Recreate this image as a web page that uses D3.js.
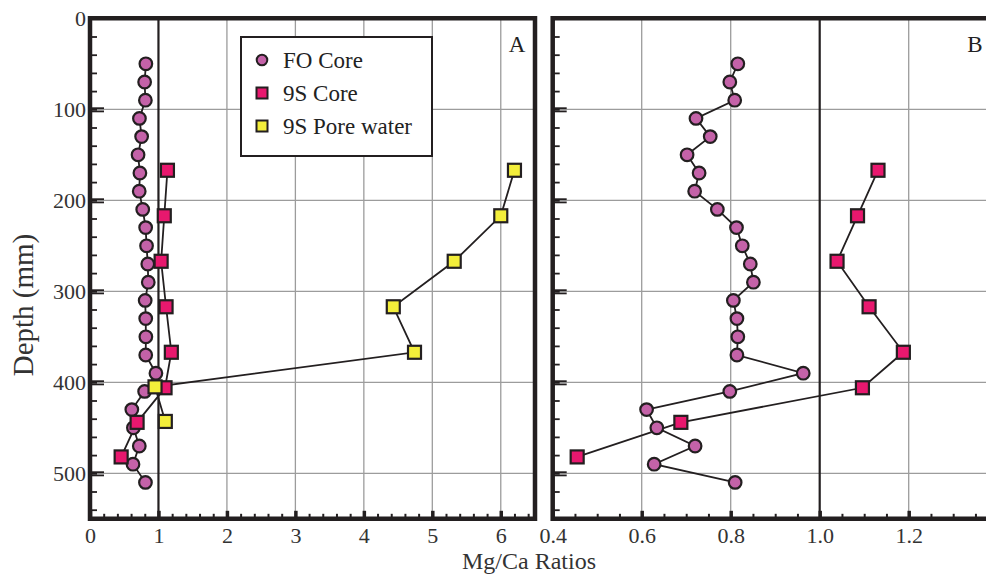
<!DOCTYPE html>
<html>
<head>
<meta charset="utf-8">
<script src="https://cdn.jsdelivr.net/npm/d3@7"></script>
<style>
  body { margin: 0; background: #fff; }
  svg { display: block; }
  svg text { font-family: "Liberation Serif", "Times New Roman", Times, "DejaVu Serif", serif; }
</style>
</head>
<body>
<script>
// Mg/Ca ratio vs depth, two panels (A: full range, B: zoomed)

// ---- data ----
var foDepth = [50, 70, 90, 110, 130, 150, 170, 190, 210, 230, 250, 270, 290, 310, 330, 350, 370, 390, 410, 430, 450, 470, 490, 510];
var foRatio = [0.816, 0.798, 0.809, 0.722, 0.754, 0.702, 0.729, 0.719, 0.770, 0.813, 0.826, 0.844, 0.851, 0.806, 0.814, 0.816, 0.814, 0.963, 0.798, 0.611, 0.634, 0.720, 0.628, 0.810];

var s9Depth = [167, 217, 267, 317, 367, 406, 444, 482];
var s9Ratio = [1.131, 1.085, 1.039, 1.111, 1.188, 1.096, 0.688, 0.455];

var poreDepth = [167, 217, 267, 317, 367, 405, 443];
var poreRatio = [6.2, 6.0, 5.32, 4.43, 4.74, 0.95, 1.1];

var seriesNames = ["FO Core", "9S Core", "9S Pore water"];
var panelA_ticks = [0, 1, 2, 3, 4, 5, 6];
var panelB_ticks = [0.4, 0.6, 0.8, 1.0, 1.2];
var depthTicks = [0, 100, 200, 300, 400, 500];

var W = 986, H = 575;
var serif = "'Liberation Serif', 'Times New Roman', Times, 'DejaVu Serif', serif";
var dark = "#231f20", grid = "#9c9c9c";
var colFO = "#c462a8", col9S = "#e8186e", colPore = "#f3ee3a";

var svg = d3.select("body").append("svg")
  .attr("width", W)
  .attr("height", H);

// shared depth scale
var y = d3.scaleLinear().domain([0, 550]).range([18.3, 518.8]);

function zip(xs, ys) {
  return xs.map(function(v, i){ return {x: v, d: ys[i]}; });
}
var foData = zip(foRatio, foDepth);
var s9Data = zip(s9Ratio, s9Depth);
var poreData = zip(poreRatio, poreDepth);

function drawPanel(opt) {
  var x = d3.scaleLinear().domain(opt.domain).range(opt.range);
  var g = svg.append("g").attr("class", "panel");
  var x0 = opt.range[0], x1 = opt.range[1];
  var yTop = y.range()[0], yBot = y.range()[1];

  // gridlines
  g.selectAll(".vgrid")
    .data(opt.grid)
    .enter().append("line")
    .attr("x1", function(d){ return x(d); })
    .attr("x2", function(d){ return x(d); })
    .attr("y1", yTop).attr("y2", yBot)
    .attr("stroke", grid).attr("stroke-width", 1.3);
  g.selectAll(".hgrid")
    .data([100, 200, 300, 400, 500])
    .enter().append("line")
    .attr("x1", x0).attr("x2", x1)
    .attr("y1", function(d){ return y(d); })
    .attr("y2", function(d){ return y(d); })
    .attr("stroke", grid).attr("stroke-width", 1.3);

  // dark reference line at ratio = 1
  g.append("line")
    .attr("x1", x(1)).attr("x2", x(1))
    .attr("y1", yTop).attr("y2", yBot)
    .attr("stroke", dark).attr("stroke-width", 2.2);

  // y ticks (inward), minor every 20, major doubled at each 100
  g.append("g")
    .attr("transform", "translate(" + x0 + ",0)")
    .call(d3.axisLeft(y).tickValues(d3.range(20, 550, 20)).tickSize(-7).tickFormat(""));
  [-1.6, 1.6].forEach(function(off){
    g.append("g")
      .attr("transform", "translate(" + x0 + "," + off + ")")
      .call(d3.axisLeft(y).tickValues([100, 200, 300, 400, 500]).tickSize(-14).tickFormat(""));
  });
  g.selectAll(".domain").remove();
  g.selectAll(".tick line").attr("stroke", dark).attr("stroke-width", 1.8);

  // x ticks (inward)
  var xMinorG = g.append("g")
    .attr("transform", "translate(0," + yBot + ")")
    .call(d3.axisBottom(x).tickValues(opt.minor).tickSize(-5).tickFormat(""));
  xMinorG.selectAll("line").attr("stroke", dark).attr("stroke-width", 2);
  xMinorG.select(".domain").remove();

  var xAxisG = g.append("g")
    .attr("transform", "translate(0," + yBot + ")")
    .attr("font-family", serif)
    .call(d3.axisBottom(x).tickValues(opt.ticks).tickSize(-8).tickPadding(9).tickFormat(opt.fmt));
  xAxisG.attr("font-family", serif);
  xAxisG.select(".domain").remove();
  xAxisG.selectAll("line").attr("stroke", dark).attr("stroke-width", 3.5);
  xAxisG.selectAll("text")
    .attr("font-family", serif)
    .attr("font-size", 22)
    .attr("fill", "#333");

  // frame
  var frame = d3.path();
  frame.moveTo(x1, yTop);
  frame.lineTo(x0, yTop);
  frame.lineTo(x0, yBot);
  frame.lineTo(x1, yBot);
  if (opt.closeRight) frame.closePath();
  g.append("path")
    .attr("d", frame.toString())
    .attr("fill", "none")
    .attr("stroke", dark)
    .attr("stroke-width", 4.5);

  // series
  var line = d3.line()
    .x(function(d){ return x(d.x); })
    .y(function(d){ return y(d.d); });

  opt.series.forEach(function(s){
    g.append("path")
      .datum(s.data)
      .attr("d", line)
      .attr("fill", "none")
      .attr("stroke", dark)
      .attr("stroke-width", 1.8);
  });
  opt.series.forEach(function(s){
    if (s.shape === "circle") {
      g.selectAll(null)
        .data(s.data).enter().append("circle")
        .attr("cx", function(d){ return x(d.x); })
        .attr("cy", function(d){ return y(d.d); })
        .attr("r", 6.3)
        .attr("fill", s.color)
        .attr("stroke", dark)
        .attr("stroke-width", 2.2);
    } else {
      g.selectAll(null)
        .data(s.data).enter().append("rect")
        .attr("x", function(d){ return x(d.x) - 6.5; })
        .attr("y", function(d){ return y(d.d) - 6.5; })
        .attr("width", 13).attr("height", 13)
        .attr("fill", s.color)
        .attr("stroke", dark)
        .attr("stroke-width", 2.2);
    }
  });

  // panel letter
  g.append("text")
    .attr("x", opt.letterX).attr("y", 52)
    .attr("text-anchor", "middle")
    .attr("font-family", serif)
    .attr("font-size", 23)
    .attr("fill", "#222")
    .text(opt.letter);

  return x;
}

drawPanel({
  domain: [0, 6.5], range: [90, 535],
  ticks: panelA_ticks, minor: d3.range(0.2, 6.5, 0.2),
  grid: [2, 3, 4, 5, 6],
  fmt: d3.format("d"),
  closeRight: true,
  letter: "A", letterX: 517,
  series: [
    {data: foData, shape: "circle", color: colFO},
    {data: s9Data, shape: "square", color: col9S},
    {data: poreData, shape: "square", color: colPore}
  ]
});

drawPanel({
  domain: [0.4, 1.4], range: [552.7, 997.7],
  ticks: panelB_ticks, minor: d3.range(0.45, 1.4, 0.05),
  grid: [0.6, 0.8, 1.2],
  fmt: d3.format(".1f"),
  closeRight: false,
  letter: "B", letterX: 975,
  series: [
    {data: foData, shape: "circle", color: colFO},
    {data: s9Data, shape: "square", color: col9S}
  ]
});

// depth tick labels (left panel only)
svg.selectAll(".ylab")
  .data(depthTicks)
  .enter().append("text")
  .attr("x", 86)
  .attr("y", function(d){ return y(d) + 8; })
  .attr("text-anchor", "end")
  .attr("font-family", serif)
  .attr("font-size", 22)
  .attr("fill", "#333")
  .text(function(d){ return d; });

// axis titles
svg.append("text")
  .attr("transform", "translate(33,305) rotate(-90)")
  .attr("text-anchor", "middle")
  .attr("font-family", serif)
  .attr("font-size", 29)
  .attr("fill", "#333")
  .text("Depth (mm)");

svg.append("text")
  .attr("x", 529).attr("y", 569)
  .attr("text-anchor", "middle")
  .attr("font-family", serif)
  .attr("font-size", 24)
  .attr("fill", "#333")
  .text("Mg/Ca Ratios");

// legend
var legend = svg.append("g");
legend.append("rect")
  .attr("x", 241).attr("y", 37)
  .attr("width", 191).attr("height", 119)
  .attr("fill", "#fff")
  .attr("stroke", dark)
  .attr("stroke-width", 2);
var legColors = [colFO, col9S, colPore];
seriesNames.forEach(function(name, i){
  var cy = 60 + i * 33;
  if (i === 0) {
    legend.append("circle")
      .attr("cx", 262).attr("cy", cy).attr("r", 5.3)
      .attr("fill", legColors[i]).attr("stroke", dark).attr("stroke-width", 2);
  } else {
    legend.append("rect")
      .attr("x", 256.5).attr("y", cy - 5.5)
      .attr("width", 11).attr("height", 11)
      .attr("fill", legColors[i]).attr("stroke", dark).attr("stroke-width", 2);
  }
  legend.append("text")
    .attr("x", 283).attr("y", cy + 8)
    .attr("font-family", serif)
    .attr("font-size", 23)
    .attr("fill", "#222")
    .text(name);
});
</script>
</body>
</html>
